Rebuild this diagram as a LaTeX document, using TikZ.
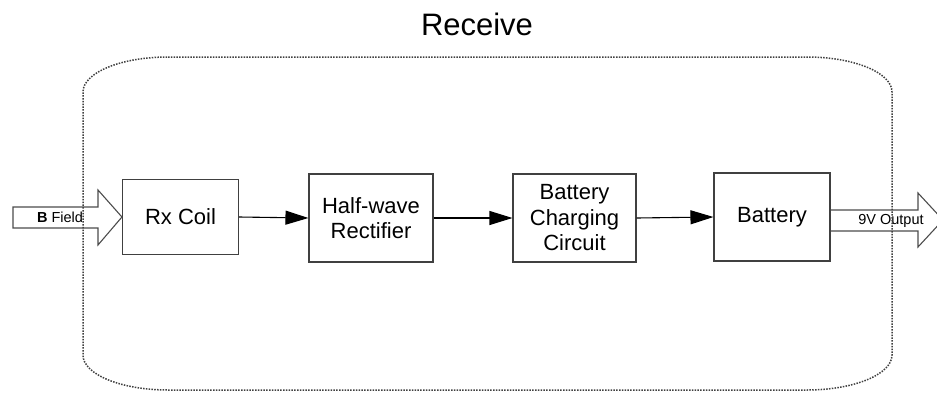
\documentclass[tikz,border=0pt]{standalone}
\usepackage{fontspec}
\setmainfont{Liberation Sans}
\usepackage{tikz}
\usetikzlibrary{arrows.meta}

\tikzset{
  block/.style={draw=black!75,line width=1.1pt,fill=white,align=center,inner sep=0pt,
    font=\fontsize{22}{25.5}\selectfont},
  flow/.style={draw=black,line width=1.1pt,-{Triangle[length=23pt,width=14pt]}},
  bigarrow/.style={draw=black!70,line width=1.1pt},
  smalltext/.style={font=\fontsize{14.5}{16}\selectfont,inner sep=0pt}
}

\begin{document}
\begin{tikzpicture}[x=1pt,y=-1pt]
\useasboundingbox (0,0) rectangle (937,394);
\node[font=\fontsize{31}{36}\selectfont] (title) at (477,24) {Receive};
\node[block,minimum width=116pt,minimum height=75pt] (rx) at (180.5,217) {Rx Coil};
\node[block,minimum width=124pt,minimum height=88pt] (hw) at (371,218) {Half-wave\\Rectifier};
\node[block,minimum width=123pt,minimum height=88pt] (bcc) at (574.5,218) {Battery\\Charging\\Circuit};
\node[block,minimum width=116pt,minimum height=88pt] (bat) at (772,217) {Battery};
\draw[flow] (rx.east) -- (hw.west);
\draw[flow] (hw.east) -- (bcc.west);
\draw[flow] (bcc.east) -- (bat.west);
% input and output arrows
\draw[bigarrow] (13,207) -- (98,207) -- (98,190) -- (rx.west) -- (98,245) -- (98,228) -- (13,228) -- cycle;
\node[smalltext] (bfield) at (60,217.5) {\textbf{B} Field};
\draw[bigarrow] (bat.east |- 0,210) -- (918,210) -- (918,193) -- (943,220) -- (918,247) -- (918,231) -- (bat.east |- 0,231);
\node[smalltext] (vout) at (891,221) {9V Output};
% enclosure
\draw[black!75,line width=1.5pt,dash pattern=on 1.5pt off 1.3pt]
  (168,57) -- (807,57) arc (-90:0:85 and 35) -- (892,355) arc (0:90:85 and 35)
  -- (168,390) arc (90:180:85 and 35) -- (83,92) arc (180:270:85 and 35) -- cycle;
\end{tikzpicture}
\end{document}
